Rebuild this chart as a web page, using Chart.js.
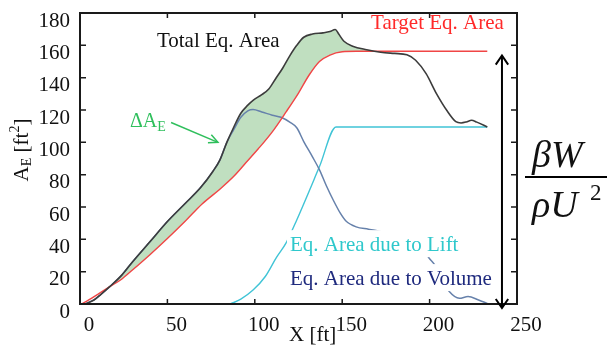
<!DOCTYPE html>
<html>
<head>
<meta charset="utf-8">
<script src="https://cdn.jsdelivr.net/npm/chart.js@4.4.0/dist/chart.umd.min.js"></script>
<style>
  html, body { margin: 0; padding: 0; background: #fff; }
  canvas { display: block; }
</style>
</head>
<body>
<canvas id="chart" width="607" height="354"></canvas>
<script>
// Total equivalent area (black curve)
const totalX = [3, 8, 12, 17, 24, 30, 40, 50, 60, 69, 76, 80, 84, 88, 92, 96, 99, 104, 108, 112, 116, 120, 124, 128, 133, 139, 143, 146, 148, 151, 156, 164, 172, 180, 187, 192, 198, 204, 210, 215, 218, 221, 224, 227, 233];
const totalY = [0, 2.5, 6, 10.7, 18, 26, 38.5, 51, 62, 72, 82, 89, 100, 109.5, 118, 123, 126, 129.5, 133, 139.5, 146, 153.5, 160, 165, 167, 167.7, 168.5, 169.8, 167, 162.5, 159.5, 157.3, 155.7, 155, 154.2, 150.8, 142.5, 130, 119.5, 112.8, 112, 112.6, 113.7, 112.5, 109.5];

// Target equivalent area (red curve)
const targetX = [1, 5, 11, 17, 24, 30, 40, 50, 60, 70, 80, 88, 95, 102, 110, 118, 125, 131, 137, 143, 150, 158, 233];
const targetY = [0, 2.5, 6.6, 10.7, 15.5, 21, 30.5, 40.5, 51, 62, 71, 79, 87.5, 96, 106.5, 119, 130.5, 141.5, 150, 154, 156, 156.3, 156.3];

// Equivalent area due to volume (blue-grey curve)
const volumeX = [3, 8, 12, 17, 24, 30, 40, 50, 60, 69, 76, 80, 84, 88, 92, 96, 99, 104, 110, 115, 120, 124, 128, 133, 137, 141, 145, 149, 152, 158, 165, 170, 176, 183, 190, 196, 200, 203, 207, 211, 217, 222, 228, 233];
const volumeY = [0, 2.5, 6, 10.7, 18, 26, 38.5, 51, 62, 72, 82, 89, 100, 108, 115.5, 119.5, 120.3, 118.8, 116.8, 115.5, 112.5, 109, 100.5, 91, 83, 73, 64, 56, 51.5, 47.7, 46.3, 45.3, 43.5, 42, 39, 34, 28, 24, 15, 8, 3.5, 4.6, 2.5, 0.3];

// Equivalent area due to lift (cyan curve)
const liftX = [86, 92, 99, 106, 112.5, 118, 124, 137, 146.5, 233];
const liftY = [0, 3, 8.6, 17, 29, 38, 52, 85, 109.5, 109.5];

const FONT = 'Liberation Serif';
const pts = (xs, ys) => xs.map((x, i) => ({ x: x, y: ys[i] }));

function textBox(ctx, str, x, y, color) {
	ctx.font = '21px ' + FONT;
	ctx.textBaseline = 'middle';
	ctx.textAlign = 'left';
	const w = ctx.measureText(str).width;
	ctx.fillStyle = '#fff';
	ctx.fillRect(x - 3, y - 15, w + 6, 27);
	ctx.fillStyle = color;
	ctx.fillText(str, x, y);
}

function arrowHead(ctx, x0, y0, x1, y1, len, ang) {
	const a = Math.atan2(y1 - y0, x1 - x0);
	ctx.beginPath();
	ctx.moveTo(x1 - len * Math.cos(a - ang), y1 - len * Math.sin(a - ang));
	ctx.lineTo(x1, y1);
	ctx.lineTo(x1 - len * Math.cos(a + ang), y1 - len * Math.sin(a + ang));
	ctx.stroke();
}

const decor = {
	id: 'decor',
	afterDatasetsDraw(chart) {
		const ctx = chart.ctx;
		const xs = chart.scales.x, ys = chart.scales.y;
		const area = chart.chartArea;
		const px = v => xs.getPixelForValue(v);
		const py = v => ys.getPixelForValue(v);
		ctx.save();

		// frame with inward ticks
		ctx.strokeStyle = '#1a1a1a';
		ctx.lineWidth = 1.5;
		xs.ticks.forEach(t => {
			const x = px(t.value);
			ctx.beginPath();
			ctx.moveTo(x, area.bottom); ctx.lineTo(x, area.bottom - 5);
			ctx.moveTo(x, area.top); ctx.lineTo(x, area.top + 5);
			ctx.stroke();
		});
		ys.ticks.forEach(t => {
			const y = py(t.value);
			ctx.beginPath();
			ctx.moveTo(area.left, y); ctx.lineTo(area.left + 6, y);
			ctx.moveTo(area.right, y); ctx.lineTo(area.right - 6, y);
			ctx.stroke();
		});
		ctx.lineWidth = 2;
		ctx.strokeRect(area.left, area.top, area.right - area.left, area.bottom - area.top);

		// curve labels
		ctx.font = '21px ' + FONT;
		ctx.textBaseline = 'middle';
		ctx.fillStyle = '#111';
		ctx.fillText('Total Eq. Area', px(44), py(162.3));
		ctx.fillStyle = '#ff2a2a';
		ctx.fillText('Target Eq. Area', px(166.5), py(173.5));
		textBox(ctx, 'Eq. Area due to Lift', px(120.1), py(36.4), '#2fc8cc');
		textBox(ctx, 'Eq. Area due to Volume', px(120.1), py(15.4), '#1f2a7e');

		// delta A_E label and arrow
		const green = '#2fbf5c';
		ctx.fillStyle = green;
		ctx.font = '20px ' + FONT;
		const gx = px(28.6), gy = py(113);
		ctx.fillText('\u0394A', gx, gy);
		const dw = ctx.measureText('\u0394A').width;
		ctx.font = '14px ' + FONT;
		ctx.fillText('E', gx + dw, gy + 6);
		ctx.strokeStyle = green;
		ctx.lineWidth = 1.5;
		const ax0 = px(52.1), ay0 = py(112.3), ax1 = px(78.9), ay1 = py(100);
		ctx.beginPath();
		ctx.moveTo(ax0, ay0); ctx.lineTo(ax1, ay1);
		ctx.stroke();
		arrowHead(ctx, ax0, ay0, ax1, ay1, 10, 0.45);

		// double arrow
		ctx.strokeStyle = '#000';
		ctx.lineWidth = 2;
		const dx = px(241.4), dTop = py(153.7), dBot = py(-2.5);
		ctx.beginPath();
		ctx.moveTo(dx, dTop); ctx.lineTo(dx, dBot);
		ctx.stroke();
		arrowHead(ctx, dx, dBot, dx, dTop, 11, 0.6);
		arrowHead(ctx, dx, dTop, dx, dBot, 11, 0.6);

		// axis titles
		ctx.fillStyle = '#111';
		ctx.font = '21px ' + FONT;
		ctx.fillText('X [ft]', 289, 335);

		ctx.save();
		ctx.translate(22, 150);
		ctx.rotate(-Math.PI / 2);
		const parts = [['A', 21, 0], ['E', 14, 5], [' [ft', 21, 0], ['2', 14, -7], [']', 21, 0]];
		let tw = 0;
		parts.forEach(p => { ctx.font = p[1] + 'px ' + FONT; tw += ctx.measureText(p[0]).width; });
		let cx = -tw / 2;
		parts.forEach(p => {
			ctx.font = p[1] + 'px ' + FONT;
			ctx.fillText(p[0], cx, p[2]);
			cx += ctx.measureText(p[0]).width;
		});
		ctx.restore();

		// beta W / rho U^2
		ctx.font = 'italic 38px ' + FONT;
		ctx.fillText('\u03b2W', 532, 157);
		ctx.fillText('\u03c1U', 532, 207);
		ctx.font = '23px ' + FONT;
		ctx.fillText('2', 590, 194);
		ctx.fillStyle = '#000';
		ctx.fillRect(525, 176, 82, 2);

		ctx.restore();
	}
};

new Chart(document.getElementById('chart'), {
	type: 'line',
	data: {
		datasets: [
			{
				label: 'Total Eq. Area',
				data: pts(totalX, totalY),
				borderColor: '#3c3c3c',
				borderWidth: 1.6,
				fill: { target: 1, above: 'rgb(192, 223, 192)', below: 'rgba(0,0,0,0)' },
			},
			{
				label: 'Target Eq. Area',
				data: pts(targetX, targetY),
				borderColor: '#f04545',
				borderWidth: 1.4,
				fill: false,
			},
			{
				label: 'Eq. Area due to Volume',
				data: pts(volumeX, volumeY),
				borderColor: '#6681ab',
				borderWidth: 1.5,
				fill: false,
			},
			{
				label: 'Eq. Area due to Lift',
				data: pts(liftX, liftY),
				borderColor: '#40c4d6',
				borderWidth: 1.4,
				fill: false,
			},
		],
	},
	options: {
		responsive: false,
		animation: false,
		layout: { padding: { left: 0, top: 13, right: 90, bottom: 0 } },
		elements: {
			point: { radius: 0 },
			line: { cubicInterpolationMode: 'monotone' },
		},
		plugins: {
			legend: { display: false },
			tooltip: { enabled: false },
			filler: { drawTime: 'beforeDatasetsDraw' },
		},
		scales: {
			x: {
				type: 'linear',
				min: 0,
				max: 250,
				ticks: { stepSize: 50, padding: 9, labelOffset: 9, color: '#111', font: { family: FONT, size: 21 } },
				grid: { display: false, drawTicks: false },
				border: { display: false },
				afterFit: s => { s.height = 50; s.paddingLeft = 0; s.paddingRight = 0; },
			},
			y: {
				min: 0,
				max: 180,
				ticks: { stepSize: 20, padding: 10, labelOffset: 8, color: '#111', font: { family: FONT, size: 21 } },
				grid: { display: false, drawTicks: false },
				border: { display: false },
				afterFit: s => { s.width = 80; s.paddingTop = 0; s.paddingBottom = 0; },
			},
		},
	},
	plugins: [decor],
});
</script>
</body>
</html>
